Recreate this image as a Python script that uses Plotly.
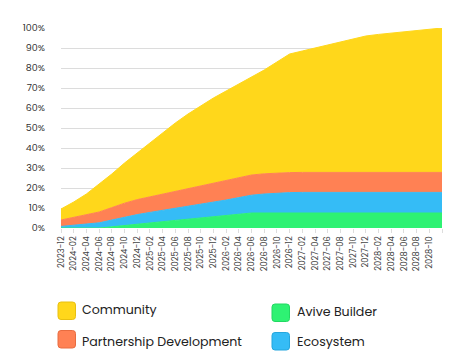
import plotly.graph_objects as go

months = ["2023-12", "2024-02", "2024-04", "2024-06", "2024-08", "2024-10", "2024-12",
          "2025-02", "2025-04", "2025-06", "2025-08", "2025-10", "2025-12",
          "2026-02", "2026-04", "2026-06", "2026-08", "2026-10", "2026-12",
          "2027-02", "2027-04", "2027-06", "2027-08", "2027-10", "2027-12",
          "2028-02", "2028-04", "2028-06", "2028-08", "2028-10", "2028-12"]

avive_builder = [0, 0, 0, 0, 0.6, 1.3, 1.9, 2.5, 3.1, 3.8, 4.4, 5.0, 5.7, 6.3, 6.9, 7.5,
                 7.5, 7.5, 7.5, 7.5, 7.5, 7.5, 7.5, 7.5, 7.5, 7.5, 7.5, 7.5, 7.5, 7.5, 7.5]
ecosystem = [0.8, 1.3, 1.9, 2.6, 3.4, 4.1, 4.8, 5.3, 5.7, 6.0, 6.4, 6.8, 7.1, 7.7, 8.3, 8.9,
             9.5, 9.9, 10.2, 10.3, 10.3, 10.3, 10.3, 10.3, 10.3, 10.3, 10.3, 10.3, 10.3, 10.3, 10.3]
partnership = [3.2, 4.0, 4.7, 5.4, 6.2, 7.0, 7.5, 7.8, 8.2, 8.6, 9.0, 9.4, 9.8, 10.0, 10.1, 10.1,
               10.1, 10.1, 10.0, 10.0, 10.0, 10.0, 10.0, 10.0, 10.0, 10.0, 10.0, 10.0, 10.0, 10.0, 10.0]
community = [5.5, 7.7, 10.4, 14.0, 16.8, 20.1, 23.3, 26.9, 30.5, 34.1, 37.2, 39.8, 42.4, 44.5,
             46.7, 49.0, 51.9, 55.5, 59.3, 60.7, 62.2, 63.7, 65.2, 66.7, 68.2, 69.0, 69.6,
             70.2, 70.8, 71.5, 72.2]

tick_labels = months[:-1] + [""]

series = [
    ("Avive Builder", avive_builder, "#2ef273"),
    ("Ecosystem", ecosystem, "#35bcf6"),
    ("Partnership Development", partnership, "#ff8154"),
    ("Community", community, "#ffd71b"),
]

fig = go.Figure()
for name, vals, col in series:
    fig.add_trace(go.Scatter(
        x=months, y=vals, name=name, stackgroup="one", mode="lines",
        line=dict(color=col, width=1), fillcolor=col, showlegend=False,
    ))

# the page body has an 8px default margin; work in window pixels and shift
OFF = 8
W, H = 470 - OFF, 358 - OFF
L, R, T, B = 61 - OFF, 442 - OFF, 28 - OFF, 228 - OFF


def px(x):
    return (x - OFF - L) / (R - L)


def py(y):
    return (B - (y - OFF)) / (B - T)


def rrect(x0, y0, x1, y1, r=3):
    X0, X1 = px(x0), px(x1)
    Y0, Y1 = py(y0), py(y1)
    rx = r / (R - L)
    ry = r / (B - T)
    return (f"M {X0+rx},{Y0} L {X1-rx},{Y0} Q {X1},{Y0} {X1},{Y0-ry} "
            f"L {X1},{Y1+ry} Q {X1},{Y1} {X1-rx},{Y1} L {X0+rx},{Y1} "
            f"Q {X0},{Y1} {X0},{Y1+ry} L {X0},{Y0-ry} Q {X0},{Y0} {X0+rx},{Y0} Z")


legend_items = [
    ("Community", "#ffd71b", "#e8c010", 58, 302, 80, 309.5),
    ("Partnership Development", "#ff8154", "#e86c40", 58, 330.5, 80, 341),
    ("Avive Builder", "#2ef273", "#22d862", 272, 304, 295, 311.5),
    ("Ecosystem", "#35bcf6", "#25a6dd", 272, 332.5, 295, 342),
]

shapes = []
annotations = []
for name, col, edge, sx, sy, tx, ty in legend_items:
    shapes.append(dict(type="path", xref="paper", yref="paper",
                       path=rrect(sx, sy, sx + 17.5, sy + 17.5),
                       fillcolor=col, line=dict(color=edge, width=1), layer="above"))
    annotations.append(dict(text=name, xref="paper", yref="paper", x=px(tx), y=py(ty),
                            xanchor="left", yanchor="middle", showarrow=False,
                            font=dict(size=12.6, color="#222222")))

fig.update_layout(
    width=W, height=H,
    margin=dict(l=L, r=W - R, t=T, b=H - B, autoexpand=False),
    paper_bgcolor="white", plot_bgcolor="white",
    font=dict(family="Poppins, Inter, sans-serif", color="#333333"),
    shapes=shapes, annotations=annotations,
    xaxis=dict(
        type="category", range=[0, len(months) - 1],
        tickmode="array", tickvals=months, ticktext=tick_labels,
        tickangle=-90, tickfont=dict(size=8.3, color="#444444"),
        ticks="outside", ticklen=4, tickcolor="#dddddd",
        showgrid=False, zeroline=False, showline=False,
    ),
    yaxis=dict(
        range=[0, 100], tickmode="array", tickvals=list(range(0, 101, 10)),
        ticktext=[f"{v}%" for v in range(0, 101, 10)],
        tickfont=dict(size=9.5, color="#333333"),
        showgrid=True, gridcolor="#dcdcdc", gridwidth=1,
        zeroline=False, showline=False, ticks="", ticklabelstandoff=15,
    ),
)

fig.write_html("out.html")
